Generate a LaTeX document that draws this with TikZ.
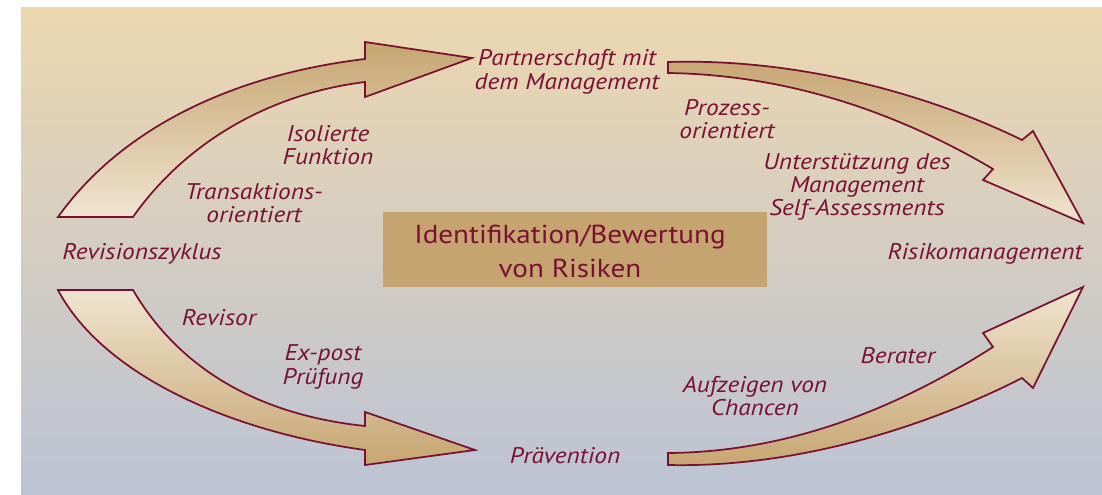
\documentclass[tikz,border=0pt]{standalone}
\usepackage{fontspec}
\setmainfont[FakeStretch=1.12]{PT Sans}
\definecolor{ink}{HTML}{7A1034}
\definecolor{edge}{HTML}{7A1030}
\definecolor{tan}{HTML}{C6A571}
\definecolor{cream}{HTML}{F0E4D0}
\definecolor{bgtop}{HTML}{ECD7AF}
\definecolor{bgmid}{HTML}{D4CEC4}
\definecolor{bgbot}{HTML}{BBC3D4}
\definecolor{boxfill}{HTML}{C6A46F}
\begin{document}
\begin{tikzpicture}[x=0.75pt,y=-0.75pt,
  lbl/.style={text=ink, align=center, inner sep=0pt,
    font=\fontsize{17}{17.5}\selectfont\itshape},
  bigarrow/.style={draw=edge, line width=1.3pt, line join=miter},
  upshade/.style={top color=tan, bottom color=cream},
  downshade/.style={top color=cream, bottom color=tan}]
\useasboundingbox (0,0) rectangle (1102,495);
\shade[top color=bgtop, middle color=bgmid, bottom color=bgbot] (21,8) rectangle (1102,495);

% arrows
\shade[bigarrow, upshade] (58,217) .. controls (120,130) and (230,75) .. (365,59) -- (365,42) -- (472,58) -- (365,97) -- (365,82) .. controls (260,95) and (180,150) .. (133,217) -- cycle;
\shade[bigarrow, upshade] (668,62) .. controls (800,58) and (930,95) .. (1022,140) -- (1033,131) -- (1083,223) -- (983,180) -- (993,169) .. controls (910,120) and (800,75) .. (668,73) -- cycle;
\shade[bigarrow, downshade] (58,290) .. controls (100,370) and (220,430) .. (365,450) -- (365,465) -- (475,450) -- (365,412) -- (365,426) .. controls (260,415) and (180,370) .. (133,290) -- cycle;
\shade[bigarrow, downshade] (668,453) .. controls (800,452) and (910,400) .. (993,347) -- (983,333) -- (1083,287) -- (1033,388) -- (1022,378) .. controls (930,425) and (800,468) .. (668,465) -- cycle;

% central box
\node[fill=boxfill, minimum width=288pt, minimum height=56.25pt, inner sep=0pt] (box) at (575,249.5) {};
\node[text=ink, align=center, inner sep=0pt, font=\fontsize{19.5}{25.5}\selectfont] (boxtext) at (570,251) {Identifikation/Bewertung\\von Risiken};

% labels
\node[lbl] (partner) at (567,72) {Partnerschaft mit\\dem Management};
\node[lbl] (isoliert) at (328,145) {Isolierte\\Funktion};
\node[lbl] (trans) at (254,203) {Transaktions-\\orientiert};
\node[lbl] (prozess) at (727,119) {Prozess-\\orientiert};
\node[lbl] (unter) at (857,187) {Unterstützung des\\Management\\Self-Assessments};
\node[lbl] (revzyk) at (142,254) {Revisionszyklus};
\node[lbl] (risiko) at (985,254) {Risikomanagement};
\node[lbl] (revisor) at (219,318) {Revisor};
\node[lbl] (expost) at (323,367) {Ex-post\\Prüfung};
\node[lbl] (praev) at (565,456) {Prävention};
\node[lbl] (berater) at (898,356) {Berater};
\node[lbl] (aufz) at (755,396) {Aufzeigen von\\Chancen};
\end{tikzpicture}
\end{document}
